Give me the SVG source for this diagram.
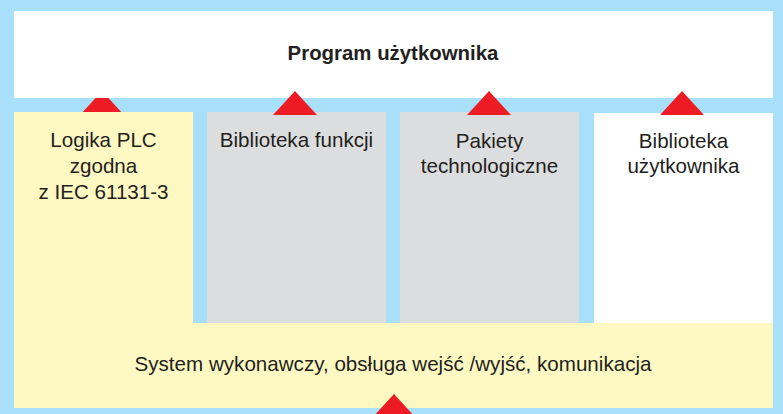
<svg xmlns="http://www.w3.org/2000/svg" width="783" height="414" viewBox="0 0 783 414">
<defs>
<style>
.t{font-family:"Liberation Sans",Arial,sans-serif;font-size:20.6px;fill:#231f20;text-anchor:middle}
.b{font-weight:bold;font-size:20.4px}
.arr{fill:#ed1c24}
</style>
</defs>
<rect width="783" height="414" fill="#a8dff9"/>
<g id="connectors">
<polygon class="arr" points="102,91 80,115 124,115"/>
</g>
<g id="program">
<rect x="14" y="11" width="759" height="87" fill="#ffffff"/>
<text class="t b" x="393" y="60">Program użytkownika</text>
</g>
<g id="system">
<path d="M14 112 H193 V323 H773 V408 H14 Z" fill="#fef9c2"/>
<text class="t" x="393" y="371">System wykonawczy, obsługa wejść /wyjść, komunikacja</text>
</g>
<g id="plc">
<text class="t" x="103.5" y="147">Logika PLC</text>
<text class="t" x="103.5" y="173">zgodna</text>
<text class="t" x="103.5" y="199">z IEC 61131-3</text>
</g>
<g id="biblioteka-funkcji">
<rect x="207" y="112" width="179" height="211" fill="#dcdddf"/>
<text class="t" x="296.5" y="147">Biblioteka funkcji</text>
</g>
<g id="pakiety">
<rect x="400" y="112" width="179" height="211" fill="#dcdddf"/>
<text class="t" x="489.5" y="148">Pakiety</text>
<text class="t" x="489.5" y="173">technologiczne</text>
</g>
<g id="biblioteka-uzytkownika">
<rect x="594" y="113" width="179" height="210" fill="#ffffff"/>
<text class="t" x="683.5" y="148">Biblioteka</text>
<text class="t" x="683.5" y="173">użytkownika</text>
</g>
<g id="connectors-top">
<polygon class="arr" points="295,91 273,115 317,115"/>
<polygon class="arr" points="489,91 467,115 511,115"/>
<polygon class="arr" points="682,91 660,115 704,115"/>
<polygon class="arr" points="394,394 372,418 416,418"/>
</g>
</svg>
